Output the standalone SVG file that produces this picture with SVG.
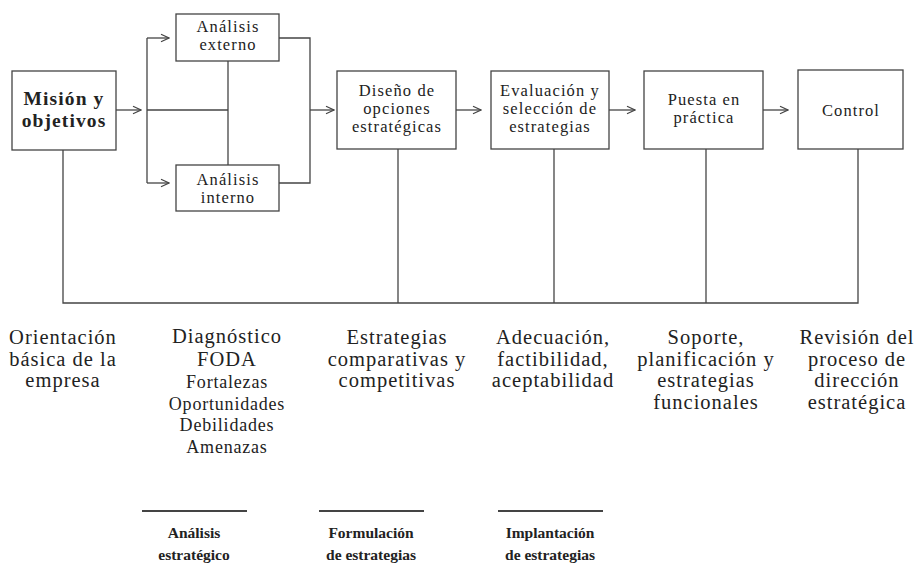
<svg xmlns="http://www.w3.org/2000/svg" width="916" height="564" viewBox="0 0 916 564">
  <defs>
    <marker id="arr" viewBox="0 0 10 10" refX="9" refY="5" markerWidth="10" markerHeight="10" markerUnits="userSpaceOnUse" orient="auto">
      <path d="M1,1.2 L9,5 L1,8.8" fill="none" stroke="#444" stroke-width="1.2"/>
    </marker>
  </defs>
  <style>
    .box { fill: #fff; stroke: #444; stroke-width: 1.3; }
    .ln { fill: none; stroke: #444; stroke-width: 1.3; }
    .t { font-family: 'Liberation Serif', 'DejaVu Serif', serif; fill: #222; text-anchor: middle; }
    .bx { font-size: 16.5px; letter-spacing: 1.1px; }
    .lab { font-size: 20.5px; letter-spacing: 1px; }
    .sub { font-size: 18px; letter-spacing: 0.8px; }
    .b { font-weight: bold; font-size: 19.5px; letter-spacing: 1.1px; }
    .ph { font-weight: bold; font-size: 15.5px; }
    .rule { stroke: #444; stroke-width: 2; }
  </style>

  <rect width="916" height="564" fill="#fff"/>

  <g id="connectors">
    <!-- Misión to analysis split -->
    <line class="ln" x1="116" y1="110" x2="141" y2="110" marker-end="url(#arr)"/>
    <line class="ln" x1="147" y1="110" x2="228" y2="110"/>
    <line class="ln" x1="147" y1="38" x2="147" y2="183"/>
    <line class="ln" x1="147" y1="38" x2="169" y2="38" marker-end="url(#arr)"/>
    <line class="ln" x1="147" y1="183" x2="169" y2="183" marker-end="url(#arr)"/>
    <line class="ln" x1="228" y1="61" x2="228" y2="165"/>
    <!-- analysis merge -->
    <polyline class="ln" points="279,38 310,38 310,183 279,183"/>
    <line class="ln" x1="310" y1="110" x2="334" y2="110" marker-end="url(#arr)"/>
    <!-- main chain -->
    <line class="ln" x1="456" y1="110" x2="481" y2="110" marker-end="url(#arr)"/>
    <line class="ln" x1="609" y1="110" x2="635" y2="110" marker-end="url(#arr)"/>
    <line class="ln" x1="763" y1="110" x2="788" y2="110" marker-end="url(#arr)"/>
    <!-- drops to the common bar -->
    <polyline class="ln" points="63,150 63,303 858,303 858,149"/>
    <line class="ln" x1="398" y1="149" x2="398" y2="303"/>
    <line class="ln" x1="554" y1="149" x2="554" y2="303"/>
    <line class="ln" x1="706" y1="149" x2="706" y2="303"/>
  </g>

  <g id="mision">
    <rect class="box" x="12" y="71" width="104" height="79"/>
    <text class="t b" x="64" y="105">Misión y</text>
    <text class="t b" x="64" y="127">objetivos</text>
  </g>

  <g id="analisis-externo">
    <rect class="box" x="176" y="14" width="103" height="47"/>
    <text class="t bx" x="228" y="32">Análisis</text>
    <text class="t bx" x="228" y="50">externo</text>
  </g>

  <g id="analisis-interno">
    <rect class="box" x="176" y="165" width="103" height="46"/>
    <text class="t bx" x="228" y="185">Análisis</text>
    <text class="t bx" x="228" y="203">interno</text>
  </g>

  <g id="diseno">
    <rect class="box" x="337" y="71" width="119" height="78"/>
    <text class="t bx" x="397" y="96">Diseño de</text>
    <text class="t bx" x="397" y="114">opciones</text>
    <text class="t bx" x="397" y="132">estratégicas</text>
  </g>

  <g id="evaluacion">
    <rect class="box" x="491" y="71" width="118" height="78"/>
    <text class="t bx" x="550" y="96">Evaluación y</text>
    <text class="t bx" x="550" y="114">selección de</text>
    <text class="t bx" x="550" y="132">estrategias</text>
  </g>

  <g id="puesta">
    <rect class="box" x="644" y="71" width="119" height="78"/>
    <text class="t bx" x="704" y="105">Puesta en</text>
    <text class="t bx" x="704" y="123">práctica</text>
  </g>

  <g id="control">
    <rect class="box" x="798" y="70" width="105" height="79"/>
    <text class="t bx" x="851" y="116">Control</text>
  </g>

  <g id="labels">
    <text class="t lab" x="63" y="344">Orientación</text>
    <text class="t lab" x="63" y="365.5">básica de la</text>
    <text class="t lab" x="63" y="387">empresa</text>

    <text class="t lab" x="227" y="343">Diagnóstico</text>
    <text class="t lab" x="227" y="366">FODA</text>
    <text class="t sub" x="227" y="388">Fortalezas</text>
    <text class="t sub" x="227" y="409.5">Oportunidades</text>
    <text class="t sub" x="227" y="431">Debilidades</text>
    <text class="t sub" x="227" y="452.5">Amenazas</text>

    <text class="t lab" x="397" y="344">Estrategias</text>
    <text class="t lab" x="397" y="365.5">comparativas y</text>
    <text class="t lab" x="397" y="387">competitivas</text>

    <text class="t lab" x="553" y="344">Adecuación,</text>
    <text class="t lab" x="553" y="365.5">factibilidad,</text>
    <text class="t lab" x="553" y="387">aceptabilidad</text>

    <text class="t lab" x="706" y="344">Soporte,</text>
    <text class="t lab" x="706" y="365.5">planificación y</text>
    <text class="t lab" x="706" y="387">estrategias</text>
    <text class="t lab" x="706" y="408.5">funcionales</text>

    <text class="t lab" x="857" y="344">Revisión del</text>
    <text class="t lab" x="857" y="365.5">proceso de</text>
    <text class="t lab" x="857" y="387">dirección</text>
    <text class="t lab" x="857" y="408.5">estratégica</text>
  </g>

  <g id="phases">
    <line class="rule" x1="142" y1="511" x2="247" y2="511"/>
    <text class="t ph" x="194" y="538">Análisis</text>
    <text class="t ph" x="194" y="560">estratégico</text>

    <line class="rule" x1="319" y1="511" x2="424" y2="511"/>
    <text class="t ph" x="371" y="538">Formulación</text>
    <text class="t ph" x="371" y="560">de estrategias</text>

    <line class="rule" x1="498" y1="511" x2="603" y2="511"/>
    <text class="t ph" x="550" y="538">Implantación</text>
    <text class="t ph" x="550" y="560">de estrategias</text>
  </g>
</svg>
